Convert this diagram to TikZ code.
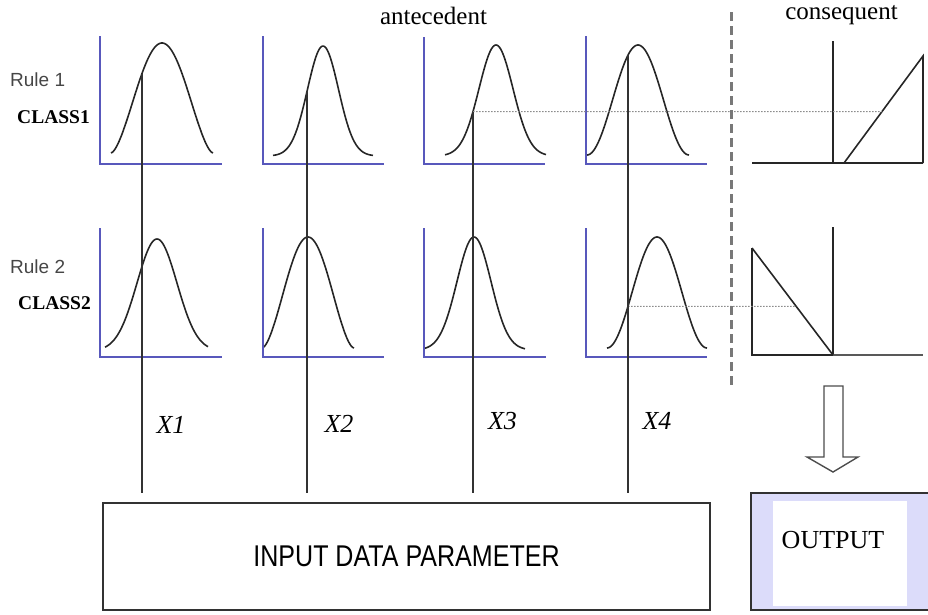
\documentclass[tikz,border=0pt]{standalone}
\usepackage{fontspec}
\setmainfont{Liberation Serif}
\newfontfamily\arialf{Liberation Sans}
\usetikzlibrary{calc}
\definecolor{axisblue}{RGB}{88,88,188}
\definecolor{linegray}{RGB}{50,50,50}
\definecolor{dashgray}{RGB}{120,120,120}
\definecolor{dotgray}{RGB}{140,140,140}
\definecolor{outfill}{RGB}{220,220,250}
\definecolor{rulegray}{RGB}{70,70,70}
\tikzset{
  axisline/.style={draw=axisblue, line width=2.2pt},
  bellcurve/.style={draw=black!85, line width=1.6pt, samples=90, smooth},
  inputline/.style={draw=linegray, line width=1.7pt},
  guideline/.style={draw=dotgray, line width=1pt, dash pattern=on 1.5pt off 1.5pt},
  consline/.style={draw=black!85, line width=1.6pt},
  sepline/.style={draw=dashgray, line width=3pt, dash pattern=on 9pt off 5pt},
  lbl/.style={inner sep=0pt, anchor=base},
  xlbl/.style={inner sep=0pt, anchor=base, font=\fontsize{26}{30}\selectfont\itshape},
  rulelbl/.style={inner sep=0pt, anchor=base west, text=rulegray, font=\arialf\fontsize{19}{22}\selectfont},
  classlbl/.style={inner sep=0pt, anchor=base west, font=\bfseries\fontsize{19.5}{22}\selectfont},
  inbox/.style={draw=linegray, line width=1.7pt, minimum width=607pt, minimum height=107pt, inner sep=0pt},
  outbox/.style={draw=linegray, line width=1.7pt, fill=outfill, minimum width=181pt, minimum height=117pt, inner sep=0pt},
  inwhite/.style={fill=white, minimum width=134pt, minimum height=105pt, inner sep=0pt},
}
\begin{document}
\begin{tikzpicture}[x=1pt,y=-1pt]
\useasboundingbox (0,0) rectangle (928,614);

% ---------- titles ----------
\node[lbl, font=\fontsize{25}{30}\selectfont] (ante) at (433.5,24) {antecedent};
\node[lbl, font=\fontsize{25}{30}\selectfont] (cons) at (841.5,19) {consequent};

% ---------- row labels ----------
\node[rulelbl] (r1) at (10,86) {Rule 1};
\node[classlbl] (cl1) at (17,123) {CLASS1};
\node[rulelbl] (r2) at (10,273) {Rule 2};
\node[classlbl] (cl2) at (18,309) {CLASS2};

% ---------- row 1 curves ----------
\draw[bellcurve] plot[domain=111:213] (\x,{153-110*pow((1+cos(180*(\x-162)/51))/2+0.0001,0.8)});
\draw[bellcurve] plot[domain=273:373] (\x,{156-110*exp(-((\x-323)/15.5)^2/2)});
\draw[bellcurve] plot[domain=445:546] (\x,{156-111*exp(-((\x-496)/17)^2/2)});
\draw[bellcurve] plot[domain=587:689] (\x,{155-110*(1+cos(180*(\x-638)/51))/2});

% ---------- row 2 curves ----------
\draw[bellcurve] plot[domain=105:208] (\x,{351-112*exp(-((\x-157)/20)^2/2)});
\draw[bellcurve] plot[domain=263:354] (\x,{348-111*pow((1+cos(180*(\x-308)/46))/2+0.0001,0.85)});
\draw[bellcurve] plot[domain=424:525] (\x,{350-113*exp(-((\x-474)/17)^2/2)});
\draw[bellcurve] plot[domain=607:707] (\x,{348-111*(1+cos(180*(\x-657)/50))/2});

% ---------- axes ----------
\draw[axisline] (100,36) -- (100,164) -- (222,164);
\draw[axisline] (263,36) -- (263,164) -- (384,164);
\draw[axisline] (424,37) -- (424,164) -- (545,164);
\draw[axisline] (586,36) -- (586,164) -- (707,164);
\draw[axisline] (100,228) -- (100,357) -- (222,357);
\draw[axisline] (263,228) -- (263,357) -- (384,357);
\draw[axisline] (424,228) -- (424,357) -- (546,357);
\draw[axisline] (586,228) -- (586,357) -- (707,357);

% ---------- line start points on the row-1 curves ----------
\coordinate (s1) at (142,{153-110*pow((1+cos(180*(142-162)/51))/2,0.8)});
\coordinate (s2) at (307,{156-110*exp(-((307-323)/15.5)^2/2)});
\coordinate (s3) at (473,{156-111*exp(-((473-496)/17)^2/2)});
\coordinate (s4) at (628,{155-110*(1+cos(180*(628-638)/51))/2});
\coordinate (q4) at (628,{348-111*(1+cos(180*(628-657)/50))/2});
\coordinate (lineend) at (0,493);

% ---------- consequent graphs ----------
\coordinate (c1a) at (844,163);
\coordinate (c1b) at (923,56);
\draw[consline] (752,163) -- (923,163);
\draw[consline] (833,41) -- (833,163);
\draw[consline] (c1a) -- (c1b) -- (923,163);
\coordinate (c2a) at (752,248);
\coordinate (c2b) at (833,355);
\draw[consline] (833,227) -- (c2b);
\draw[consline, draw=black!65] (c2b) -- (923,355);
\draw[consline, line width=2pt] (c2a) -- (752,355) -- (c2b);
\draw[consline] (c2a) -- (c2b);

% ---------- dotted guides ----------
\coordinate (s3r) at ($(s3)+(500,0)$);
\coordinate (q4r) at ($(q4)+(300,0)$);
\coordinate (g1) at (intersection of s3--s3r and c1a--c1b);
\coordinate (g2) at (intersection of q4--q4r and c2a--c2b);
\draw[guideline] (s3) -- (g1);
\draw[guideline] (q4) -- (g2);

% ---------- separator ----------
\coordinate (sept) at (731,12);
\coordinate (sepb) at (731,385);
\draw[sepline] (sept) -- (sepb);

% ---------- input lines ----------
\draw[inputline] (s1) -- (s1 |- lineend);
\draw[inputline] (s2) -- (s2 |- lineend);
\draw[inputline] (s3) -- (s3 |- lineend);
\draw[inputline] (s4) -- (s4 |- lineend);

% ---------- variable labels ----------
\node[xlbl] (x1) at (171,433) {X1};
\node[xlbl] (x2) at (339,432) {X2};
\node[xlbl] (x3) at (502.5,429) {X3};
\node[xlbl] (x4) at (657,429) {X4};

% ---------- input box ----------
\node[inbox] (input) at (406.5,556.5) {\arialf\fontsize{30}{34}\selectfont\scalebox{0.835}[1]{INPUT DATA PARAMETER}};

% ---------- output box ----------
\node[outbox] (outouter) at (841.5,551.5) {};
\node[inwhite] (outinner) at (840,553.5) {};
\node[lbl, anchor=center, font=\fontsize{26}{30}\selectfont] (outtext) at (833,540) {OUTPUT};

% ---------- hollow arrow ----------
\draw[draw=black!70, line width=1.4pt, fill=white, line join=miter]
  (824,386) -- (843,386) -- (843,457) -- (858,457) -- (833,472) -- (807,457) -- (824,457) -- cycle;
\end{tikzpicture}
\end{document}
